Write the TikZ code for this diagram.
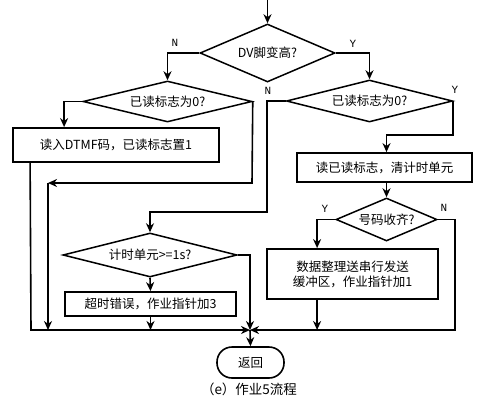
\documentclass[tikz,border=0pt]{standalone}
\usepackage{fontspec}
\setmainfont{Noto Sans CJK SC}
\newfontfamily\lblfont{Liberation Mono}
\usetikzlibrary{arrows.meta,shapes.geometric}
\begin{document}
\begin{tikzpicture}[x=1pt,y=-1pt,
  line width=1.6pt,
  every node/.style={font=\fontsize{12.5}{15}\selectfont},
  arr/.style={-{Stealth[length=9pt,width=8pt]}},
  dia/.style={diamond,draw,line width=1.5pt,inner sep=0pt,aspect=3},
  procbox/.style={rectangle,draw,line width=1.8pt,inner sep=0pt},
  lbl/.style={font=\lblfont\fontsize{11}{13}\selectfont,inner sep=0pt}]
\useasboundingbox (0,0) rectangle (481,404);
% nodes
\node[dia,minimum width=135pt,minimum height=58pt] (d1) at (267.5,53) {DV脚变高?};
\node[dia,minimum width=169pt,minimum height=41pt] (d2) at (167.5,101.5) {已读标志为0?};
\node[dia,minimum width=166pt,minimum height=42pt] (d3) at (369.5,101) {已读标志为0?};
\node[procbox,minimum width=206pt,minimum height=34pt] (b1) at (116,145) {读入DTMF码，已读标志置1};
\node[procbox,minimum width=175pt,minimum height=29pt] (b2) at (384.5,167.5) {读已读标志，清计时单元};
\node[dia,minimum width=101pt,minimum height=43pt] (d5) at (386.5,219.5) {号码收齐?};
\node[procbox,minimum width=171pt,minimum height=50pt,align=center] (b4) at (352.5,274) {数据整理送串行发送\\缓冲区，作业指针加1};
\node[dia,minimum width=174pt,minimum height=44pt] (d4) at (150,255) {计时单元>=1s?};
\node[procbox,minimum width=171pt,minimum height=24pt] (b3) at (150.5,304) {超时错误，作业指针加3};
\node[draw,rectangle,rounded corners=15pt,line width=1.6pt,minimum width=67pt,minimum height=31pt,inner sep=0pt] (ret) at (250.5,362.5) {返回};
\node[font=\fontsize{13.5}{16}\selectfont] (cap) at (249,389) {（e）作业5流程};
% labels
\node[lbl] (n1) at (175,43) {N};
\node[lbl] (y1) at (353,44) {Y};
\node[lbl] (n3) at (268,91) {N};
\node[lbl] (y3l) at (455,90) {Y};
\node[lbl] (y5) at (325,209) {Y};
\node[lbl] (n5) at (444,208) {N};
% coordinates
\coordinate (top) at (267.5,0);
\coordinate (j1) at (252,183);
\coordinate (j2) at (48,183);
\coordinate (m1) at (48,330);
\coordinate (bl) at (31,330);
\coordinate (mc) at (250,330);
\coordinate (k) at (267,212);
\coordinate (y3) at (386.5,135);
\coordinate (r) at (455,330);
% connectors
\draw[arr] (top) -- (d1.north);
\draw[arr] (d1.west) -| (d2.north);
\draw[arr] (d1.east) -| (d3.north);
\draw[arr] (d2.west) -| ([xshift=52pt]b1.north west);
\draw[arr] (d2.east) -- (j1) -- (j2);
\draw[arr] (j2) -- (m1);
\draw[arr] ([xshift=18pt]b1.south west) -- (bl) -- (mc);
\draw[arr] (d3.west) -| (k) -| (d4.north);
\draw[arr] (d3.east) |- (y3) -- (y3 |- b2.north);
\draw[arr] (d5.north |- b2.south) -- (d5.north);
\draw[arr] (d5.west) -| ([xshift=51pt]b4.north west);
\draw[arr] (d5.east) -| (r) -- (mc);
\draw[arr] ([xshift=51pt]b4.south west) -- ([xshift=51pt]b4.south west |- mc);
\draw[arr] (d4.south) -- (b3.north);
\draw[arr] (d4.east) -| (mc);
\draw[arr] (b3.south) -- (b3.south |- mc);
\draw[arr] (mc) -- (ret.north);
\end{tikzpicture}
\end{document}
